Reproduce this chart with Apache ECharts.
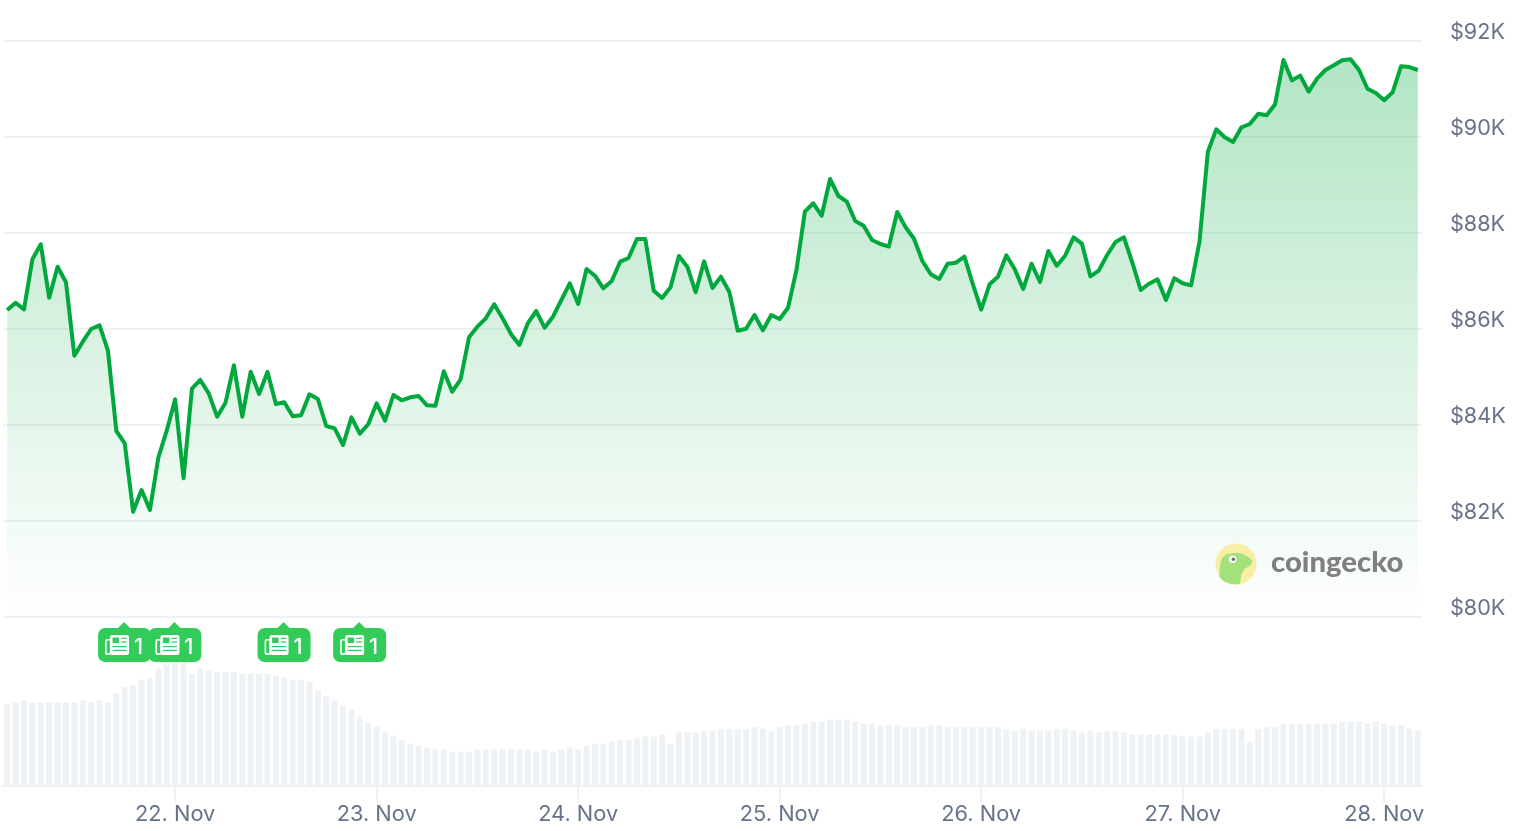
<!DOCTYPE html>
<html>
<head>
<meta charset="utf-8">
<title>Bitcoin price, 7 days</title>
<style>html,body{margin:0;padding:0;background:#fff}#c{width:1518px;height:831px}</style>
<script src="https://cdn.jsdelivr.net/npm/echarts@6/dist/echarts.min.js"></script>
</head>
<body>
<div id="c"></div>
<script>
// Hourly prices in USD, from 21 Nov 04:00 to 28 Nov 04:00
const prices = [
86396,86548,86410,87452,87765,86652,87298,86973,85444,85735,86000,86077,85548,83875,83619,82194,82646,82229,83319,83881,
84535,82890,84756,84938,84660,84173,84465,85244,84173,85110,84646,85104,84438,84473,84181,84202,84640,84542,83979,83931,
83583,84160,83819,84015,84452,84090,84625,84515,84577,84604,84410,84400,85119,84694,84952,85827,86048,86223,86515,86223,
85896,85667,86119,86375,86027,86256,86604,86952,86521,87250,87110,86848,87000,87402,87479,87875,87875,86798,86646,86869,
87521,87298,86765,87410,86854,87090,86777,85965,86006,86292,85973,86292,86208,86444,87229,88444,88619,88360,89125,88771,
88652,88250,88152,87854,87771,87715,88438,88119,87881,87417,87140,87042,87360,87381,87506,86938,86402,86931,87090,87535,
87244,86833,87360,86979,87625,87319,87527,87910,87777,87098,87215,87542,87813,87910,87381,86813,86944,87035,86604,87056,
86952,86910,87819,89694,90160,89994,89896,90202,90271,90485,90452,90681,91604,91181,91277,90944,91215,91396,91494,91598,
91619,91396,91006,90917,90765,90931,91473,91458,91396
];
// Hourly traded volume, in the chart's own relative units (the reference shows no scale)
const volumes = [
81.7,83.3,85,83.3,83.3,83.3,83.3,83.3,83.3,85,83.3,85,83.3,92.7,98.3,100.3,105.7,107.7,117,120.7,
125,124,111.7,117,115.3,113.3,113.3,113.3,111.7,111.7,111.7,111.7,109.7,107.7,105.7,105.7,104,94.7,89,85.3,
79.7,76,68.7,63,59,53.3,49.7,45.3,41.7,40,38,36,36,34,34,34,36,36,36,36,
36,36,36,34,36,34,36,38,36,40,41.7,41.7,43.7,45.3,45.3,47,49,49,51,41.7,
53,53,53,54.7,54.7,56.7,56.7,56.7,56.7,58.3,56.7,54.7,58.3,60.3,60.3,62,64,64,66,66,
66,64,62,62,60.3,60.3,60.3,58.3,58.3,58.3,60.3,60.3,58.3,58.3,58.3,58.3,58.3,58.3,58.3,56.7,
54.7,56.7,54.7,54.7,54.7,56.7,56.7,54.7,53,54.7,53,54.7,54.7,53,51,51,51,51,51,51,
49,49,49,53,56.7,56.7,56.7,56.7,43.7,56.7,58.3,58.3,62,62,62,62,62,62,62,64,
64,64,62,64,62,60.3,60.3,56.7,54.7
];
const hourIndex = prices.map((_, i) => String(i));
const dayIndexes = [20, 44, 68, 92, 116, 140, 164];
const dayLabels = ['22. Nov', '23. Nov', '24. Nov', '25. Nov', '26. Nov', '27. Nov', '28. Nov'];
const priceTicks = { min: 80000, max: 92000, step: 2000 };
const newsIndexes = [14, 20, 33, 42];
const newsCounts = [1, 1, 1, 1];

const FONT = 'Inter';
const GREY = '#eff2f5';
const TEXT = '#677389';
const FLAG = '#33cc5b';
const FLAG_LEVEL = 140.5; // height of the flags on the relative volume scale

const isDay = i => dayIndexes.indexOf(i) >= 0;

function renderFlag(params, api) {
  const p = api.coord([api.value(0), api.value(1)]);
  const x = p[0] - 0.7, y = p[1];
  const L = x - 26, T = y - 17;
  const w = { fill: '#fff' }, g = { fill: FLAG };
  const rect = (a, b, c, d, style, r) => ({
    type: 'rect', shape: { x: x + a, y: y + b, width: c, height: d, r: r || 0 }, style: style
  });
  return {
    type: 'group',
    children: [
      { type: 'polygon', shape: { points: [[x - 6.5, T + 0.5], [x, y - 23], [x + 6.5, T + 0.5]] }, style: { fill: FLAG } },
      { type: 'rect', shape: { x: L, y: T, width: 53, height: 34, r: 7 }, style: { fill: FLAG } },
      rect(-19, -6, 6, 16, w, 2),
      rect(-17.4, -4.5, 3.2, 12.8, g, 1),
      rect(-14, -10, 19, 20, w, 2),
      rect(-11.5, -7.5, 6.5, 5.5, g),
      rect(-2.8, -7.2, 5.5, 1.2, g),
      rect(-2.8, -3.6, 5.5, 1.2, g),
      rect(-11.5, 1, 14.2, 1.2, g),
      rect(-11.5, 4.8, 14.2, 1.2, g),
      { type: 'text', style: { x: x + 14.5, y: y + 2, text: String(api.value(2)), fill: '#fff',
        font: '500 22px ' + FONT, align: 'center', verticalAlign: 'middle' } }
    ]
  };
}

const chart = echarts.init(document.getElementById('c'), null, { renderer: 'canvas' });
chart.setOption({
  animation: false,
  backgroundColor: '#ffffff',
  textStyle: { fontFamily: FONT },
  grid: [
    { left: 3, right: 96, top: 41, height: 576, containLabel: false },
    { left: 3, right: 96, top: 625, height: 160.5, containLabel: false }
  ],
  xAxis: [
    { type: 'category', gridIndex: 0, data: hourIndex, boundaryGap: true, show: false },
    {
      type: 'category', gridIndex: 1, data: hourIndex, boundaryGap: true,
      axisLine: { show: true, lineStyle: { color: GREY, width: 2 } },
      axisTick: { show: true, alignWithLabel: true, length: 17, lineStyle: { color: GREY, width: 2 },
        interval: i => isDay(i) },
      axisLabel: {
        show: true, margin: 17.5, color: TEXT, fontFamily: FONT, fontSize: 21.8, hideOverlap: false,
        interval: i => isDay(i),
        formatter: (v, i) => dayLabels[dayIndexes.indexOf(i)] || ''
      },
      splitLine: { show: false }
    }
  ],
  yAxis: [
    {
      type: 'value', gridIndex: 0, position: 'right', min: priceTicks.min, max: priceTicks.max, interval: priceTicks.step,
      axisLine: { show: false }, axisTick: { show: false },
      splitLine: { show: true, lineStyle: { color: GREY, width: 2 } },
      axisLabel: { margin: 28, color: TEXT, fontFamily: FONT, fontSize: 21.6, verticalAlign: 'bottom', lineHeight: 18,
        formatter: v => '$' + (v / 1000) + 'K' }
    },
    { type: 'value', gridIndex: 1, min: 0, max: 160.5, show: false }
  ],
  series: [
    {
      name: 'Volume', type: 'bar', xAxisIndex: 1, yAxisIndex: 1, data: volumes,
      barWidth: 6, itemStyle: { color: GREY }, silent: true, z: 1
    },
    {
      name: 'Price', type: 'line', xAxisIndex: 0, yAxisIndex: 0, data: prices,
      showSymbol: false, symbol: 'none', smooth: false, z: 3, clip: false,
      lineStyle: { color: '#00a83e', width: 4, join: 'round' },
      areaStyle: {
        origin: 'start', opacity: 1,
        color: new echarts.graphic.LinearGradient(0, 0, 0, 1, [
          { offset: 0, color: 'rgba(0,168,62,0.3)' },
          { offset: 1, color: 'rgba(0,168,62,0)' }
        ])
      }
    },
    {
      name: 'News', type: 'custom', xAxisIndex: 1, yAxisIndex: 1, z: 5, silent: true, clip: false,
      data: newsIndexes.map((i, k) => [i, FLAG_LEVEL, newsCounts[k]]),
      encode: { x: 0, y: 1 },
      renderItem: renderFlag
    }
  ],
  graphic: [
    { type: 'circle', z: 10, shape: { cx: 1236, cy: 564, r: 20.5 }, style: { fill: '#f9eea6' } },
    { type: 'polygon', z: 11, shape: { points: [[1219.3,576.7],[1219.6,570],[1220.4,563],[1222.5,557.5],[1225.5,554.8],[1229.3,553.6],[1236.7,552.7],[1241,553.3],[1245,555],[1249,557.5],[1252.7,560.7],[1251,564.5],[1248,567],[1245,568.3],[1242.7,571.7],[1241.2,575],[1240.7,580],[1240,583.8],[1235,584.4],[1230,583.8],[1225,582],[1221.5,579.5]] },
      style: { fill: '#a3e27a' } },
    { type: 'circle', z: 12, shape: { cx: 1232.7, cy: 559.3, r: 3.8 }, style: { fill: '#ffffff' } },
    { type: 'circle', z: 13, shape: { cx: 1233.4, cy: 559.3, r: 1.7 }, style: { fill: '#6b6b6b' } },
    { type: 'text', z: 10, style: { x: 1271, y: 563, text: 'coingecko', fill: '#808080',
      font: '900 29.3px Lato', verticalAlign: 'middle', align: 'left' } }
  ]
});
</script>
</body>
</html>
